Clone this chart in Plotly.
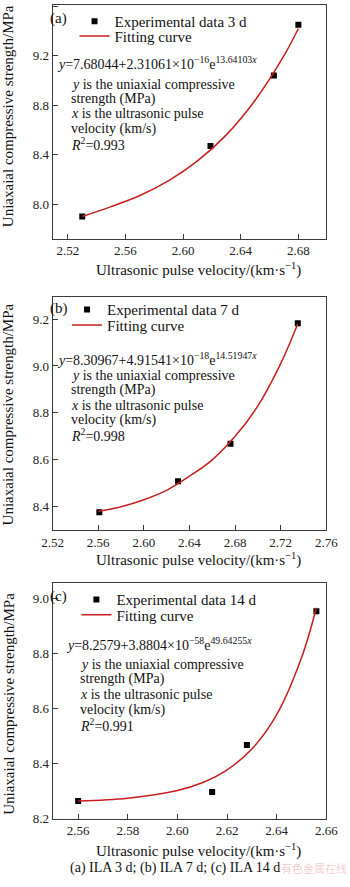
import plotly.graph_objects as go

# ---------------- data ----------------
a_vel = [2.530, 2.619, 2.663, 2.680]
a_ucs = [7.90, 8.47, 9.04, 9.45]
a_fit_vel = [2.53, 2.55, 2.57, 2.59, 2.61, 2.63, 2.65, 2.67, 2.68]
a_fit_ucs = [7.90, 7.98, 8.07, 8.19, 8.35, 8.56, 8.84, 9.20, 9.42]

b_vel = [2.561, 2.630, 2.676, 2.735]
b_ucs = [8.376, 8.509, 8.669, 9.182]
b_fit_vel = [2.56, 2.58, 2.60, 2.62, 2.64, 2.66, 2.68, 2.70, 2.72, 2.735]
b_fit_ucs = [8.38, 8.40, 8.43, 8.47, 8.53, 8.60, 8.70, 8.83, 9.01, 9.18]

c_vel = [2.560, 2.614, 2.628, 2.656]
c_ucs = [8.264, 8.297, 8.468, 8.954]
c_fit_vel = [2.56, 2.58, 2.60, 2.61, 2.62, 2.63, 2.64, 2.65, 2.656]
c_fit_ucs = [8.264, 8.274, 8.302, 8.330, 8.377, 8.453, 8.578, 8.785, 8.967]

a_xticks = [2.52, 2.56, 2.60, 2.64, 2.68]
a_yticks = [8.0, 8.4, 8.8, 9.2, 9.6]
b_xticks = [2.52, 2.56, 2.60, 2.64, 2.68, 2.72, 2.76]
b_yticks = [8.4, 8.6, 8.8, 9.0, 9.2]
c_xticks = [2.56, 2.58, 2.60, 2.62, 2.64, 2.66]
c_yticks = [8.2, 8.4, 8.6, 8.8, 9.0]

panel_labels = ["(a)", "(b)", "(c)"]
data_names = ["Experimental data 3 d", "Experimental data 7 d", "Experimental data 14 d"]
fit_name = "Fitting curve"
equations = [
    "<i>y</i>=7.68044+2.31061×10<sup>−16</sup>e<sup>13.64103<i>x</i></sup>",
    "<i>y</i>=8.30967+4.91541×10<sup>−18</sup>e<sup>14.51947<i>x</i></sup>",
    "<i>y</i>=8.2579+3.8804×10<sup>−58</sup>e<sup>49.64255<i>x</i></sup>",
]
r2_values = ["0.993", "0.998", "0.991"]
x_title = "Ultrasonic pulse velocity/(km·s<sup>−1</sup>)"
y_title = "Uniaxaial compressive strength/MPa"
caption = "(a) ILA 3 d; (b) ILA 7 d; (c) ILA 14 d"

# ---------------- layout helpers ----------------
W, H = 350, 887
FONT = "Liberation Serif"
RED = "#c81e1e"
AX = "#3a3a3a"
DX = -10  # compensation for the annotation box padding seen in the render


def px(x):
    return x / W


def py(y):
    return 1 - y / H


fig = go.Figure()

panels = [
    dict(vel=a_vel, ucs=a_ucs, fv=a_fit_vel, fu=a_fit_ucs, xt=a_xticks, yt=a_yticks,
         xr=[2.5094, 2.6994], yr=[7.72, 9.61], top=5, bot=241),
    dict(vel=b_vel, ucs=b_ucs, fv=b_fit_vel, fu=b_fit_ucs, xt=b_xticks, yt=b_yticks,
         xr=[2.52, 2.76], yr=[8.30, 9.295], top=299.5, bot=535),
    dict(vel=c_vel, ucs=c_ucs, fv=c_fit_vel, fu=c_fit_ucs, xt=c_xticks, yt=c_yticks,
         xr=[2.5497, 2.66], yr=[8.2, 9.058], top=588, bot=826),
]

# text placement per panel (pixel positions)
text_pos = [
    dict(lab=(50, 19), eq=(57, 64), lx=72, lines=[85, 100, 115, 130, 145],
         leg1=(68, 19), leg2=(68, 34), ttl=272, ytc=117),
    dict(lab=(50, 311), eq=(57, 362), lx=72, lines=[379, 394, 409, 424, 439],
         leg1=(60, 310), leg2=(60, 325.5), ttl=565, ytc=418),
    dict(lab=(50, 602), eq=(67, 650), lx=82, lines=[670.5, 685.5, 700.5, 716, 731.5],
         leg1=(70, 602.5), leg2=(70, 618), ttl=858, ytc=710),
]

annotations = []
left_px, right_px = 44.5, 337.5
LEG_OFF = 14  # legend top -> first row centre, px


def ann(text, x, y, size=14, **kw):
    d = dict(text=text, x=px(x), y=py(y), xref="paper", yref="paper",
             xanchor="left", yanchor="middle", align="left", showarrow=False,
             font=dict(family=FONT, size=size, color="#111"))
    d.update(kw)
    annotations.append(d)


for i, p in enumerate(panels):
    n = "" if i == 0 else str(i + 1)
    tp = text_pos[i]
    leg_a = "legend" if i == 0 else f"legend{2 * i + 1}"
    leg_b = f"legend{2 * i + 2}"
    fig.add_trace(go.Scatter(
        x=p["vel"], y=p["ucs"], mode="markers", name=data_names[i],
        marker=dict(symbol="square", size=6, color="black"),
        xaxis="x" + n, yaxis="y" + n, legend=leg_a))
    fig.add_trace(go.Scatter(
        x=p["fv"], y=p["fu"], mode="lines", name=fit_name,
        line=dict(color=RED, width=1.5, shape="spline", smoothing=1.0),
        xaxis="x" + n, yaxis="y" + n, legend=leg_b))

    axcommon = dict(showline=True, linecolor=AX, linewidth=1, mirror=True,
                    ticks="inside", ticklen=5, tickcolor=AX, showgrid=False,
                    zeroline=False,
                    tickfont=dict(family=FONT, size=13, color="#222"))
    legcommon = dict(xanchor="left", yanchor="top", bgcolor="rgba(0,0,0,0)",
                     borderwidth=0, itemwidth=30,
                     font=dict(family=FONT, size=15, color="#111"))
    fig.update_layout(**{
        "xaxis" + n: dict(domain=[px(left_px), px(right_px)], range=p["xr"],
                          tickvals=p["xt"], ticktext=[f"{v:.2f}" for v in p["xt"]],
                          anchor="y" + n, **axcommon),
        "yaxis" + n: dict(domain=[py(p["bot"]), py(p["top"])], range=p["yr"],
                          tickvals=p["yt"], ticktext=[f"{v:.1f}" for v in p["yt"]],
                          anchor="x" + n, **axcommon),
        leg_a: dict(x=px(tp["leg1"][0]), y=py(tp["leg1"][1] - LEG_OFF), **legcommon),
        leg_b: dict(x=px(tp["leg2"][0]), y=py(tp["leg2"][1] - LEG_OFF), **legcommon),
    })

    ann(panel_labels[i], tp["lab"][0] + DX, tp["lab"][1], size=15)
    ann(equations[i], tp["eq"][0] + DX, tp["eq"][1], size=14)
    lines = ["<i>y</i> is the uniaxial compressive", "strength (MPa)",
             "<i>x</i> is the ultrasonic pulse", "velocity (km/s)",
             f"<i>R</i><sup>2</sup>={r2_values[i]}"]
    for t, ly in zip(lines, tp["lines"]):
        ann(t, tp["lx"] + DX, ly, size=14)
    ann(x_title, 201, tp["ttl"], size=15, xanchor="center", align="center")
    ann(y_title, -3, tp["ytc"], size=15, xanchor="center", align="center", textangle=-90)

ann(caption, 176, 876, size=14, xanchor="center", align="center")
ann("有色金属在线", 297 + DX, 876, xanchor="left",
    font=dict(family="Noto Sans CJK SC", size=11, color="rgba(225,140,150,0.45)"))

fig.update_layout(
    width=W, height=H,
    margin=dict(l=0, r=0, t=0, b=0),
    paper_bgcolor="white", plot_bgcolor="white",
    showlegend=True,
    annotations=annotations,
)

fig.write_html("out.html")
